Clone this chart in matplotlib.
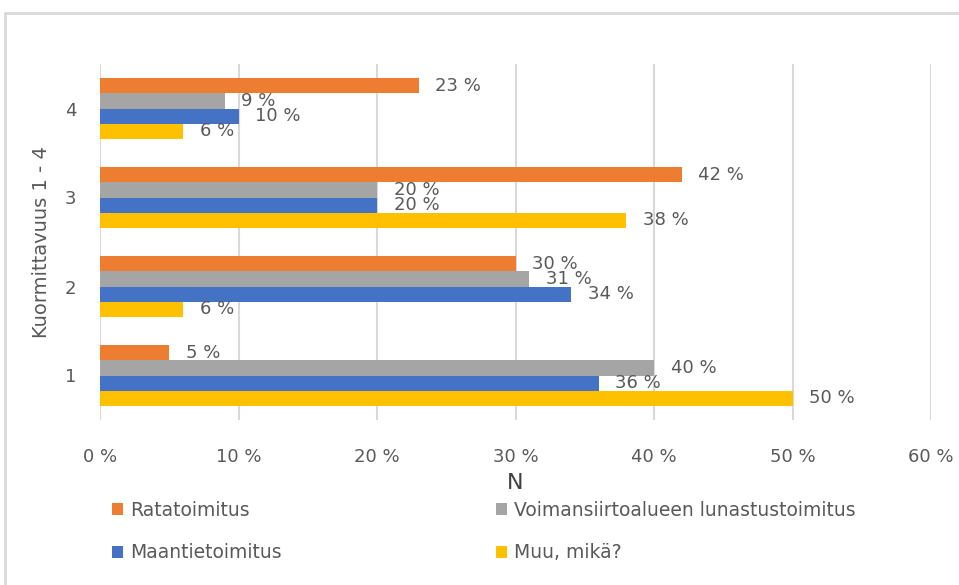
import matplotlib
matplotlib.use('Agg')
import matplotlib.pyplot as plt
from matplotlib.patches import Rectangle
import numpy as np

plt.rcParams['font.family'] = ['DejaVu Sans']

# Data (percent)
categories = ['1', '2', '3', '4']
series_names = ['Ratatoimitus', 'Voimansiirtoalueen lunastustoimitus',
                'Maantietoimitus', 'Muu, mikä?']
ratatoimitus = [5, 30, 42, 23]
voimansiirto = [40, 31, 20, 9]
maantie = [36, 34, 20, 10]
muu = [50, 6, 38, 6]
x_ticks = [0, 10, 20, 30, 40, 50, 60]
x_labels = ['0 %', '10 %', '20 %', '30 %', '40 %', '50 %', '60 %']

colors = ['#ED7D31', '#A5A5A5', '#4472C4', '#FFC000']
text_col = '#595959'

fig = plt.figure(figsize=(9.59, 5.85), dpi=100)
ax = fig.add_axes([100 / 959, 1 - 420 / 585, 831 / 959, 356 / 585])

# frame around the chart area
fig.patches.append(Rectangle((5 / 959, -0.02), 1.0, 1 - 13 / 585 + 0.02,
                             transform=fig.transFigure, fill=False,
                             edgecolor='#D9D9D9', linewidth=2))

pos = np.arange(1, len(categories) + 1)
h = 0.17
offsets = [1.5 * h, 0.5 * h, -0.5 * h, -1.5 * h]
all_vals = [ratatoimitus, voimansiirto, maantie, muu]

bars = []
for vals, off, col, name in zip(all_vals, offsets, colors, series_names):
    b = ax.barh(pos + off, vals, height=h, color=col, label=name, zorder=3)
    bars.append(b)
    # labels sit just past the bar end (they overlap in places, like the original)
    for y, v in zip(pos + off, vals):
        ax.annotate(f'{v} %', (v, y), xytext=(12, 0), textcoords='offset points',
                    ha='left', va='center', fontsize=13, color=text_col, zorder=4)

ax.set_xlim(0, 60)
ax.set_ylim(0.5, 4.5)
ax.set_xticks(x_ticks)
ax.set_xticklabels(x_labels)
ax.set_yticks(pos)
ax.set_yticklabels(categories)
ax.tick_params(axis='both', length=0, labelsize=13, labelcolor=text_col)
ax.tick_params(axis='x', pad=20)
ax.tick_params(axis='y', pad=17)
ax.grid(axis='x', color='#D9D9D9', linewidth=1.5, zorder=0)
for s in ax.spines.values():
    s.set_visible(False)

ax.set_xlabel('N', fontsize=16, color='#404040', labelpad=5)
ax.set_ylabel('Kuormittavuus 1 - 4', fontsize=14, color=text_col, labelpad=10)

leg_kw = dict(frameon=False, loc='upper left', fontsize=13.5, labelcolor=text_col,
              handlelength=0.6, handleheight=0.6, handletextpad=0.35,
              labelspacing=1.25, borderaxespad=0, borderpad=0)
fig.legend([bars[0], bars[2]], [series_names[0], series_names[2]],
           bbox_to_anchor=(112 / 959, 1 - 501 / 585), **leg_kw)
fig.legend([bars[1], bars[3]], [series_names[1], series_names[3]],
           bbox_to_anchor=(496 / 959, 1 - 501 / 585), **leg_kw)

fig.savefig('out.png', dpi=100)
